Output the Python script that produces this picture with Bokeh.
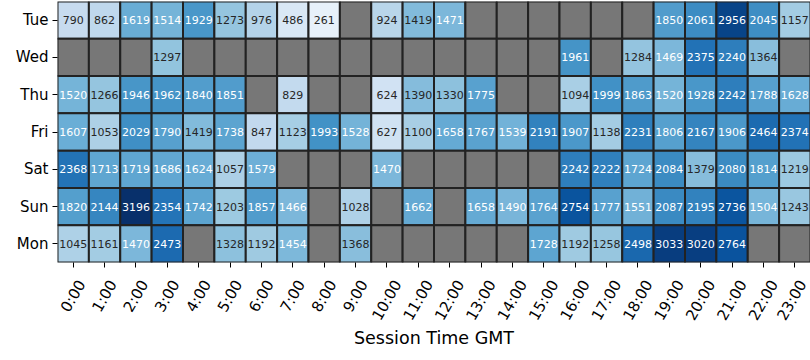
import math
from bokeh.plotting import figure
from bokeh.models import (ColumnDataSource, LinearColorMapper, FactorRange, Range1d,
                          FixedTicker, LinearAxis, CustomLabelingPolicy)
from bokeh.palettes import Blues256
from bokeh.core.properties import value
from bokeh.embed import file_html
from bokeh.resources import INLINE

hours = [f"{h}:00" for h in range(24)]
days = ["Tue", "Wed", "Thu", "Fri", "Sat", "Sun", "Mon"]
N = None

tue = [790, 862, 1619, 1514, 1929, 1273, 976, 486, 261, N, 924, 1419, 1471, N, N, N, N, N, N, 1850, 2061, 2956, 2045, 1157]
wed = [N, N, N, 1297, N, N, N, N, N, N, N, N, N, N, N, N, 1961, N, 1284, 1469, 2375, 2240, 1364, N]
thu = [1520, 1266, 1946, 1962, 1840, 1851, N, 829, N, N, 624, 1390, 1330, 1775, N, N, 1094, 1999, 1863, 1520, 1928, 2242, 1788, 1628]
fri = [1607, 1053, 2029, 1790, 1419, 1738, 847, 1123, 1993, 1528, 627, 1100, 1658, 1767, 1539, 2191, 1907, 1138, 2231, 1806, 2167, 1906, 2464, 2374]
sat = [2368, 1713, 1719, 1686, 1624, 1057, 1579, N, N, N, 1470, N, N, N, N, N, 2242, 2222, 1724, 2084, 1379, 2080, 1814, 1219]
sun = [1820, 2144, 3196, 2354, 1742, 1203, 1857, 1466, N, 1028, N, 1662, N, 1658, 1490, 1764, 2754, 1777, 1551, 2087, 2195, 2736, 1504, 1243]
mon = [1045, 1161, 1470, 2473, N, 1328, 1192, 1454, N, 1368, N, N, N, N, N, 1728, 1192, 1258, 2498, 3033, 3020, 2764, N, N]

rows = [tue, wed, thu, fri, sat, sun, mon]

palette = list(Blues256)[::-1]  # light -> dark
vmin = 0
vmax = max(v for r in rows for v in r if v is not None)
mapper = LinearColorMapper(palette=palette, low=vmin, high=vmax, nan_color="#777777")

# cells darker than this value get white annotation text
text_switch = 1436

FRAME_W, FRAME_H = 753, 261
TICK_FONT_PX = 15

cx, cy, cv = [], [], []
tx, ty, tl, tc = [], [], [], []
for day, r in zip(days, rows):
    for i, v in enumerate(r):
        cx.append(i + 0.5)
        cy.append(day)
        cv.append(float("nan") if v is None else v)
        if v is not None:
            tx.append(i + 0.5)
            ty.append(day)
            tl.append(str(v))
            tc.append("#262626" if v < text_switch else "#ffffff")

cells = ColumnDataSource(dict(x=cx, y=cy, v=cv))
notes = ColumnDataSource(dict(x=tx, y=ty, label=tl, tc=tc))

p = figure(
    x_range=Range1d(0, len(hours)),
    y_range=FactorRange(*days[::-1]),
    frame_width=FRAME_W, frame_height=FRAME_H,
    min_border_left=57, min_border_right=0, min_border_top=1, min_border_bottom=5,
    output_backend="svg", toolbar_location=None,
)
p.rect(x="x", y="y", width=1, height=1, source=cells,
       fill_color={"field": "v", "transform": mapper},
       line_color="#222222", line_width=2)
p.text(x="x", y="y", text="label", source=notes, text_color="tc",
       text_align="center", text_baseline="middle",
       text_font=value("DejaVu Sans"), text_font_size="11px")

p.outline_line_color = None
p.grid.grid_line_color = None

# tick marks at cell centres (labels suppressed)
centers = [i + 0.5 for i in range(len(hours))]
xa = p.xaxis[0]
xa.ticker = FixedTicker(ticks=centers)
xa.axis_line_color = None
xa.major_tick_line_color = "black"
xa.major_tick_out = 5
xa.major_tick_in = 0
xa.minor_tick_line_color = None
xa.major_label_standoff = 0
xa.major_label_policy = CustomLabelingPolicy(code="""
    for (const i of indices)
        indices.unset(i)
    return indices
""")

# rotated labels, centred under the ticks (matplotlib style)
px_per_unit = FRAME_W / len(hours)


def text_w(s):
    return sum(0.337 if c == ":" else 0.636 for c in s) * TICK_FONT_PX


label_pos = [round(c + text_w(h) / 4 / px_per_unit, 4) for c, h in zip(centers, hours)]
lab_axis = LinearAxis(
    ticker=FixedTicker(ticks=label_pos),
    major_label_overrides={pos: h for pos, h in zip(label_pos, hours)},
)
lab_axis.axis_line_color = None
lab_axis.major_tick_line_color = None
lab_axis.major_tick_out = 0
lab_axis.major_tick_in = 0
lab_axis.minor_tick_line_color = None
lab_axis.major_label_orientation = math.pi / 3
lab_axis.major_label_standoff = 3
lab_axis.major_label_text_font = "DejaVu Sans"
lab_axis.major_label_text_font_size = f"{TICK_FONT_PX}px"
lab_axis.major_label_text_color = "black"
lab_axis.axis_label = "Session Time GMT"
lab_axis.axis_label_text_font = "DejaVu Sans"
lab_axis.axis_label_text_font_size = "17.5px"
lab_axis.axis_label_text_font_style = "normal"
lab_axis.axis_label_text_color = "black"
lab_axis.axis_label_standoff = -3
p.add_layout(lab_axis, "below")

ya = p.yaxis[0]
ya.axis_line_color = None
ya.major_tick_line_color = "black"
ya.major_tick_out = 5
ya.major_tick_in = 0
ya.minor_tick_line_color = None
ya.major_label_text_font = "DejaVu Sans"
ya.major_label_text_font_size = "15px"
ya.major_label_text_color = "black"
ya.major_label_standoff = 4

open("out.html", "w").write(file_html(p, INLINE))
